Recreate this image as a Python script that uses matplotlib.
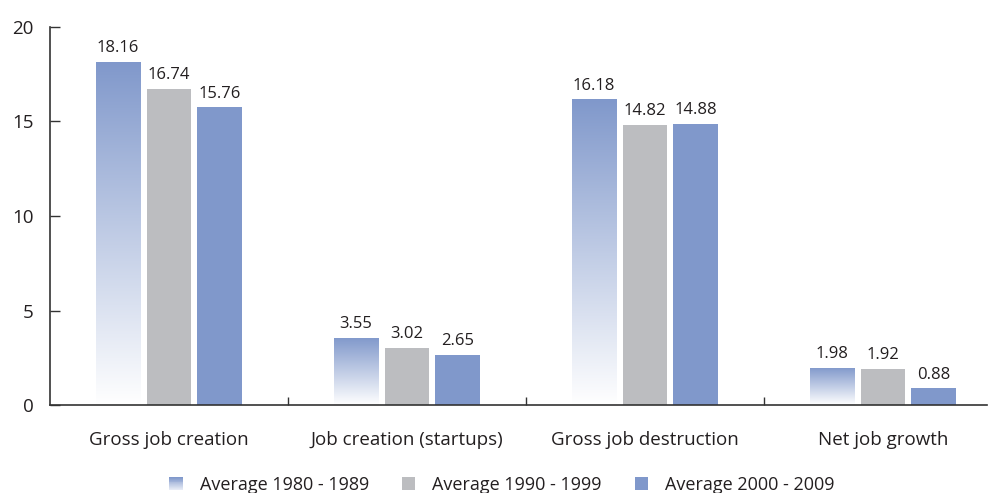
import numpy as np
import matplotlib
matplotlib.use("Agg")
import matplotlib.pyplot as plt
from matplotlib.patches import Rectangle
from matplotlib.legend_handler import HandlerBase
from matplotlib.colors import LinearSegmentedColormap

categories = ["Gross job creation", "Job creation (startups)", "Gross job destruction", "Net job growth"]
series_names = ["Average 1980 - 1989", "Average 1990 - 1999", "Average 2000 - 2009"]
avg_1980s = [18.16, 3.55, 16.18, 1.98]
avg_1990s = [16.74, 3.02, 14.82, 1.92]
avg_2000s = [15.76, 2.65, 14.88, 0.88]

BLUE = "#8098cb"
GRAY = "#bcbdc0"
TEXT = "#231f20"
FONT = "Open Sans"

plt.rcParams['font.family'] = [FONT, 'DejaVu Sans']

fig = plt.figure(figsize=(9.92, 4.93), dpi=100)
ax = fig.add_axes([50/992, 1-405/493, (987-50)/992, (405-27)/493])

x = np.arange(len(categories))
w = 0.189
off = 0.214
grad_cmap = LinearSegmentedColormap.from_list("g", ["#ffffff", BLUE])
grad = np.linspace(0, 1, 256).reshape(-1, 1)

bars1 = ax.bar(x - off, avg_1980s, w, facecolor="none", edgecolor="none")
for b in bars1:
    x0, h = b.get_x(), b.get_height()
    im = ax.imshow(grad, cmap=grad_cmap, origin="lower", aspect="auto",
                   extent=(x0, x0 + b.get_width(), 0, h), zorder=2, interpolation="bilinear")
    im.set_clip_path(b)
bars2 = ax.bar(x, avg_1990s, w, color=GRAY, zorder=2)
bars3 = ax.bar(x + off, avg_2000s, w, color=BLUE, zorder=2)

for bars, vals in [(bars1, avg_1980s), (bars2, avg_1990s), (bars3, avg_2000s)]:
    for b, v in zip(bars, vals):
        ax.annotate(f"{v:.2f}", (b.get_x() + b.get_width()/2, v), xytext=(0, 4),
                    textcoords="offset points", ha="center", va="bottom",
                    fontsize=12, color=TEXT)

ax.set_xlim(-0.5, -0.5 + (987-50)/238)
ax.set_ylim(0, 20)
ax.set_yticks([0, 5, 10, 15, 20])
ax.tick_params(axis="y", direction="in", length=7, width=1, colors="#333333",
               labelcolor=TEXT, labelsize=13.5, pad=12)
ax.set_xticks([0.5, 1.5, 2.5])
ax.set_xticklabels([])
ax.tick_params(axis="x", which="major", direction="in", length=6, width=1, colors="#333333")
ax.set_xticks(x, minor=True)
ax.set_xticklabels(categories, minor=True)
ax.tick_params(axis="x", which="minor", length=0, labelsize=13.5, labelcolor=TEXT, pad=19)

for s in ["top", "right"]:
    ax.spines[s].set_visible(False)
for s in ["left", "bottom"]:
    ax.spines[s].set_color("#333333")
    ax.spines[s].set_linewidth(1.2)


class GradHandler(HandlerBase):
    def create_artists(self, legend, orig_handle, xdescent, ydescent, width, height, fontsize, trans):
        n = 14
        arts = []
        side = min(width, height)
        x0 = -xdescent + (width - side) / 2
        y0 = -ydescent + (height - side) / 2
        for i in range(n):
            c = grad_cmap(1 - i / (n - 1) * 0.8)
            r = Rectangle((x0, y0 + side - (i + 1) * side / n), side, side / n + 0.2,
                          facecolor=c, edgecolor="none", transform=trans)
            arts.append(r)
        return arts


class SquareHandler(HandlerBase):
    def create_artists(self, legend, orig_handle, xdescent, ydescent, width, height, fontsize, trans):
        side = min(width, height)
        x0 = -xdescent + (width - side) / 2
        y0 = -ydescent + (height - side) / 2
        r = Rectangle((x0, y0), side, side, facecolor=orig_handle.get_facecolor(),
                      edgecolor="none", transform=trans)
        return [r]


h1 = Rectangle((0, 0), 1, 1, facecolor=BLUE)
h2 = Rectangle((0, 0), 1, 1, facecolor=GRAY)
h3 = Rectangle((0, 0), 1, 1, facecolor=BLUE)
leg = fig.legend([h1, h2, h3], series_names, loc="center", bbox_to_anchor=(0.5 + 6/992, 1-485/493),
                 ncol=3, frameon=False, fontsize=13, handlelength=0.75, handleheight=0.75,
                 handletextpad=0.95, columnspacing=1.8,
                 handler_map={h1: GradHandler(), h2: SquareHandler(), h3: SquareHandler()})
for t in leg.get_texts():
    t.set_color(TEXT)

fig.savefig("out.png", dpi=100)
